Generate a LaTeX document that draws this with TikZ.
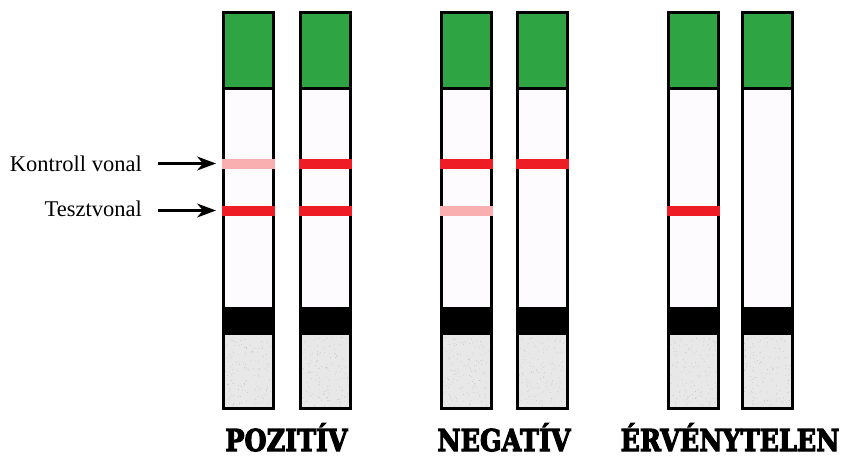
\documentclass[tikz,border=0pt]{standalone}
\usepackage{fontspec}
\setmainfont{Liberation Serif}
\newfontfamily\labelfont{Liberation Serif}
\newfontfamily\heavyfont[FakeBold=4]{DejaVu Serif Bold}
\usetikzlibrary{arrows.meta}
\definecolor{stripgreen}{HTML}{2FA443}
\definecolor{stripred}{HTML}{EE1C25}
\definecolor{strippink}{HTML}{F9AFAF}
\definecolor{stripwhite}{HTML}{FDFBFD}
\definecolor{stripgray}{HTML}{E8E8E8}
\tikzset{
  border/.style={line width=3pt, draw=black},
  arr/.style={line width=2.2pt, -{Stealth[length=19pt,width=14pt,inset=6pt]}},
  sidelabel/.style={anchor=base east, font=\labelfont\fontsize{22.5}{24}\selectfont, inner sep=0pt},
  result/.style={anchor=base, inner sep=0pt, font=\heavyfont\fontsize{31}{33}\selectfont},
}
\newcommand{\teststrip}[3]{%
  \fill[stripwhite] (#1,12) rectangle ++(50,396);
  \fill[stripgreen] (#1,12) rectangle ++(50,76);
  \fill[black] (#1,307) rectangle ++(50,28);
  \fill[stripgray] (#1,335) rectangle ++(50,73);
  \foreach \k in {1,...,140} {\fill[gray!45] ({#1+2+46*rnd},{337+69*rnd}) circle (0.45pt);}
  \draw[border] (#1,12) rectangle ++(50,396);
  \draw[border] (#1,88) -- ++(50,0);
  \ifx\relax#2\relax\else\fill[#2] (#1-1.5,158.5) rectangle ++(53,10);\fi
  \ifx\relax#3\relax\else\fill[#3] (#1-1.5,205.5) rectangle ++(53,10);\fi
}
\begin{document}
\begin{tikzpicture}[x=1pt,y=-1pt]
\pgfmathsetseed{7}
\useasboundingbox (0,0) rectangle (846,458);
\teststrip{223.5}{strippink}{stripred}
\teststrip{300}{stripred}{stripred}
\teststrip{441}{stripred}{strippink}
\teststrip{517}{stripred}{}
\teststrip{668}{}{stripred}
\teststrip{742}{}{}
\node[sidelabel] (kl) at (142,171.5) {Kontroll vonal};
\node[sidelabel] (tl) at (142,216) {Tesztvonal};
\coordinate (kc) at (216,163.5);
\coordinate (tc) at (216,210.5);
\draw[arr] (158,163.5) coordinate (ks) -- (kc);
\draw[arr] (158,210.5) coordinate (ts) -- (tc);
\node[result] (pos) at (286.5,451) {\scalebox{0.82}[0.97]{POZITÍV}};
\node[result] (neg) at (504,451) {\scalebox{0.82}[0.97]{NEGATÍV}};
\node[result] (inv) at (730,451) {\scalebox{0.82}[0.97]{ÉRVÉNYTELEN}};
\end{tikzpicture}
\end{document}
